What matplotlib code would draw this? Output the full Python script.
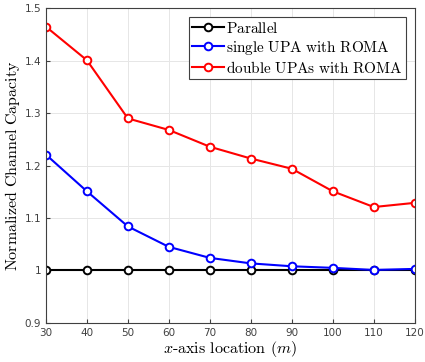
import matplotlib
matplotlib.use("Agg")
import matplotlib.pyplot as plt

x_loc = [30, 40, 50, 60, 70, 80, 90, 100, 110, 120]
parallel = [1.0, 1.0, 1.0, 1.0, 1.0, 1.0, 1.0, 1.0, 1.0, 1.0]
single_upa = [1.221, 1.151, 1.084, 1.045, 1.024, 1.0135, 1.008, 1.005, 1.001, 1.003]
double_upa = [1.465, 1.401, 1.290, 1.268, 1.236, 1.2135, 1.194, 1.151, 1.121, 1.129]

plt.rcParams["mathtext.fontset"] = "cm"

fig = plt.figure(figsize=(4.25, 3.62), dpi=100)
ax = fig.add_axes([0.108, 0.108, 0.868, 0.869])

style = dict(marker="o", markerfacecolor="white", markersize=5.5, markeredgewidth=1.4, lw=1.5)
ax.plot(x_loc, parallel, color="black", label=r"$\mathrm{Parallel}$", **style)
ax.plot(x_loc, single_upa, color="blue", label=r"$\mathrm{single\ UPA\ with\ ROMA}$", **style)
ax.plot(x_loc, double_upa, color="red", label=r"$\mathrm{double\ UPAs\ with\ ROMA}$", **style)

ax.set_xlim(30, 120)
ax.set_ylim(0.9, 1.5)
ax.set_xticks(range(30, 121, 10))
ax.set_yticks([0.9, 1.0, 1.1, 1.2, 1.3, 1.4, 1.5])
ax.set_yticklabels(["0.9", "1", "1.1", "1.2", "1.3", "1.4", "1.5"])
ax.tick_params(labelsize=7.5, colors="#404040", direction="in", length=3)
ax.grid(True, color="#e6e6e6", lw=0.7)
for s in ax.spines.values():
    s.set_color("#404040")
    s.set_linewidth(0.8)

ax.set_xlabel(r"$x\text{-axis location }(m)$", fontsize=11.5, labelpad=1)
ax.set_ylabel(r"$\mathrm{Normalized\ Channel\ Capacity}$", fontsize=11.5, labelpad=2)

leg = ax.legend(loc="upper right", fontsize=11, handlelength=2.1, handletextpad=0.1,
                borderpad=0.25, labelspacing=0.2, fancybox=False, framealpha=1,
                borderaxespad=0.55)
leg.get_frame().set_edgecolor("#404040")
leg.get_frame().set_linewidth(0.8)

fig.savefig("out.png", dpi=100)
